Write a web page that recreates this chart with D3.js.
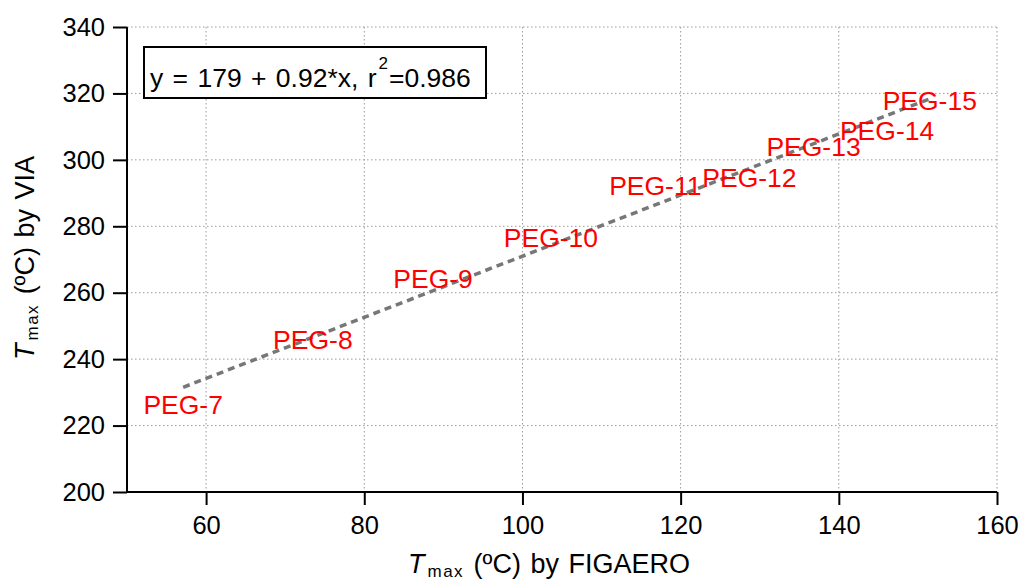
<!DOCTYPE html>
<html>
<head>
<meta charset="utf-8">
<script src="https://cdn.jsdelivr.net/npm/d3@7"></script>
<style>
  body { margin: 0; background: #fff; }
  svg { font-family: "Liberation Sans", Arial, sans-serif; }
  .grid line { stroke: #999; stroke-width: 1; stroke-dasharray: 1.5,2.5; }
  .axis path, .axis line { stroke: #000; stroke-width: 2; }
  .axis text { font-size: 25.5px; fill: #000; }
</style>
</head>
<body>
<svg id="chart" width="1024" height="580"></svg>
<script>
// Data
const pegNames = ["PEG-7", "PEG-8", "PEG-9", "PEG-10", "PEG-11", "PEG-12", "PEG-13", "PEG-14", "PEG-15"];
const figaeroTmax = [57.1, 73.5, 88.7, 103.6, 116.8, 128.7, 136.8, 146.1, 151.5];
const viaTmax = [226.2, 245.8, 264.2, 276.5, 292.2, 294.6, 303.9, 308.7, 317.8];
const xTicks = [60, 80, 100, 120, 140, 160];
const yTicks = [200, 220, 240, 260, 280, 300, 320, 340];
const fitIntercept = 179;
const fitSlope = 0.92;

const margin = { top: 27, right: 27, bottom: 88, left: 127 };
const width = 1024 - margin.left - margin.right;
const height = 580 - margin.top - margin.bottom;

const svg = d3.select("#chart");
const g = svg.append("g").attr("transform", `translate(${margin.left},${margin.top})`);

const x = d3.scaleLinear().domain([50, 160]).range([0, width]);
const y = d3.scaleLinear().domain([200, 340]).range([height, 0]);

//dotted grid
g.append("g").attr("class", "grid")
  .selectAll("line").data(xTicks).enter().append("line")
  .attr("x1", d => x(d)).attr("x2", d => x(d))
  .attr("y1", 0).attr("y2", height);
g.append("g").attr("class", "grid")
  .selectAll("line").data(yTicks.slice(1)).enter().append("line")
  .attr("x1", 0).attr("x2", width)
  .attr("y1", d => y(d)).attr("y2", d => y(d));

//fit line
const xMin = d3.min(figaeroTmax), xMax = d3.max(figaeroTmax);
g.append("line")
  .attr("x1", x(xMin)).attr("y1", y(fitIntercept + fitSlope * xMin))
  .attr("x2", x(xMax)).attr("y2", y(fitIntercept + fitSlope * xMax))
  .attr("stroke", "#777").attr("stroke-width", 3.5)
  .attr("stroke-dasharray", "7,5");

//axes
g.append("g").attr("class", "axis")
  .attr("transform", `translate(0,${height})`)
  .call(d3.axisBottom(x).tickValues(xTicks).tickSizeInner(13).tickSizeOuter(0).tickPadding(11))
  .call(a => a.select(".domain").attr("d", `M0,0H${width}`));
g.append("g").attr("class", "axis")
  .call(d3.axisLeft(y).tickValues(yTicks).tickSizeInner(14).tickSizeOuter(0).tickPadding(8))
  .call(a => a.select(".domain").attr("d", `M0,0V${height}`));

//point labels
g.append("g").selectAll("text")
  .data(pegNames).enter().append("text")
  .attr("x", (d, i) => x(figaeroTmax[i]))
  .attr("y", (d, i) => y(viaTmax[i]))
  .attr("text-anchor", "middle")
  .attr("dy", "0.35em")
  .attr("fill", "#ff0000")
  .attr("font-size", 26.5)
  .text(d => d);

//legend box
g.append("rect")
  .attr("x", 17).attr("y", 20).attr("width", 342).attr("height", 51)
  .attr("fill", "#fff").attr("stroke", "#000").attr("stroke-width", 2);
const leg = g.append("text").attr("x", 23).attr("y", 60).attr("font-size", 26.5)
  .attr("word-spacing", 2).attr("fill", "#000");
leg.append("tspan").text("y = 179 + 0.92*x, r");
leg.append("tspan").attr("dx", 2).attr("dy", -18).attr("font-size", 17).text("2");
leg.append("tspan").attr("dx", 1).attr("dy", 18).text("=0.986");

//axis titles
function axisTitle(sel, label) {
  sel.attr("text-anchor", "middle").attr("font-size", 27)
    .attr("word-spacing", 2).attr("fill", "#000");
  sel.append("tspan").attr("font-style", "italic").text("T");
  sel.append("tspan").attr("font-size", 17).attr("letter-spacing", 1.5).attr("dx", 3).attr("dy", 4).text("max");
  sel.append("tspan").attr("dy", -4).text(label);
}
axisTitle(svg.append("text").attr("x", 549).attr("y", 573), " (ºC) by FIGAERO");
axisTitle(svg.append("text").attr("transform", "translate(34,258) rotate(-90)"), " (ºC) by VIA");
</script>
</body>
</html>
